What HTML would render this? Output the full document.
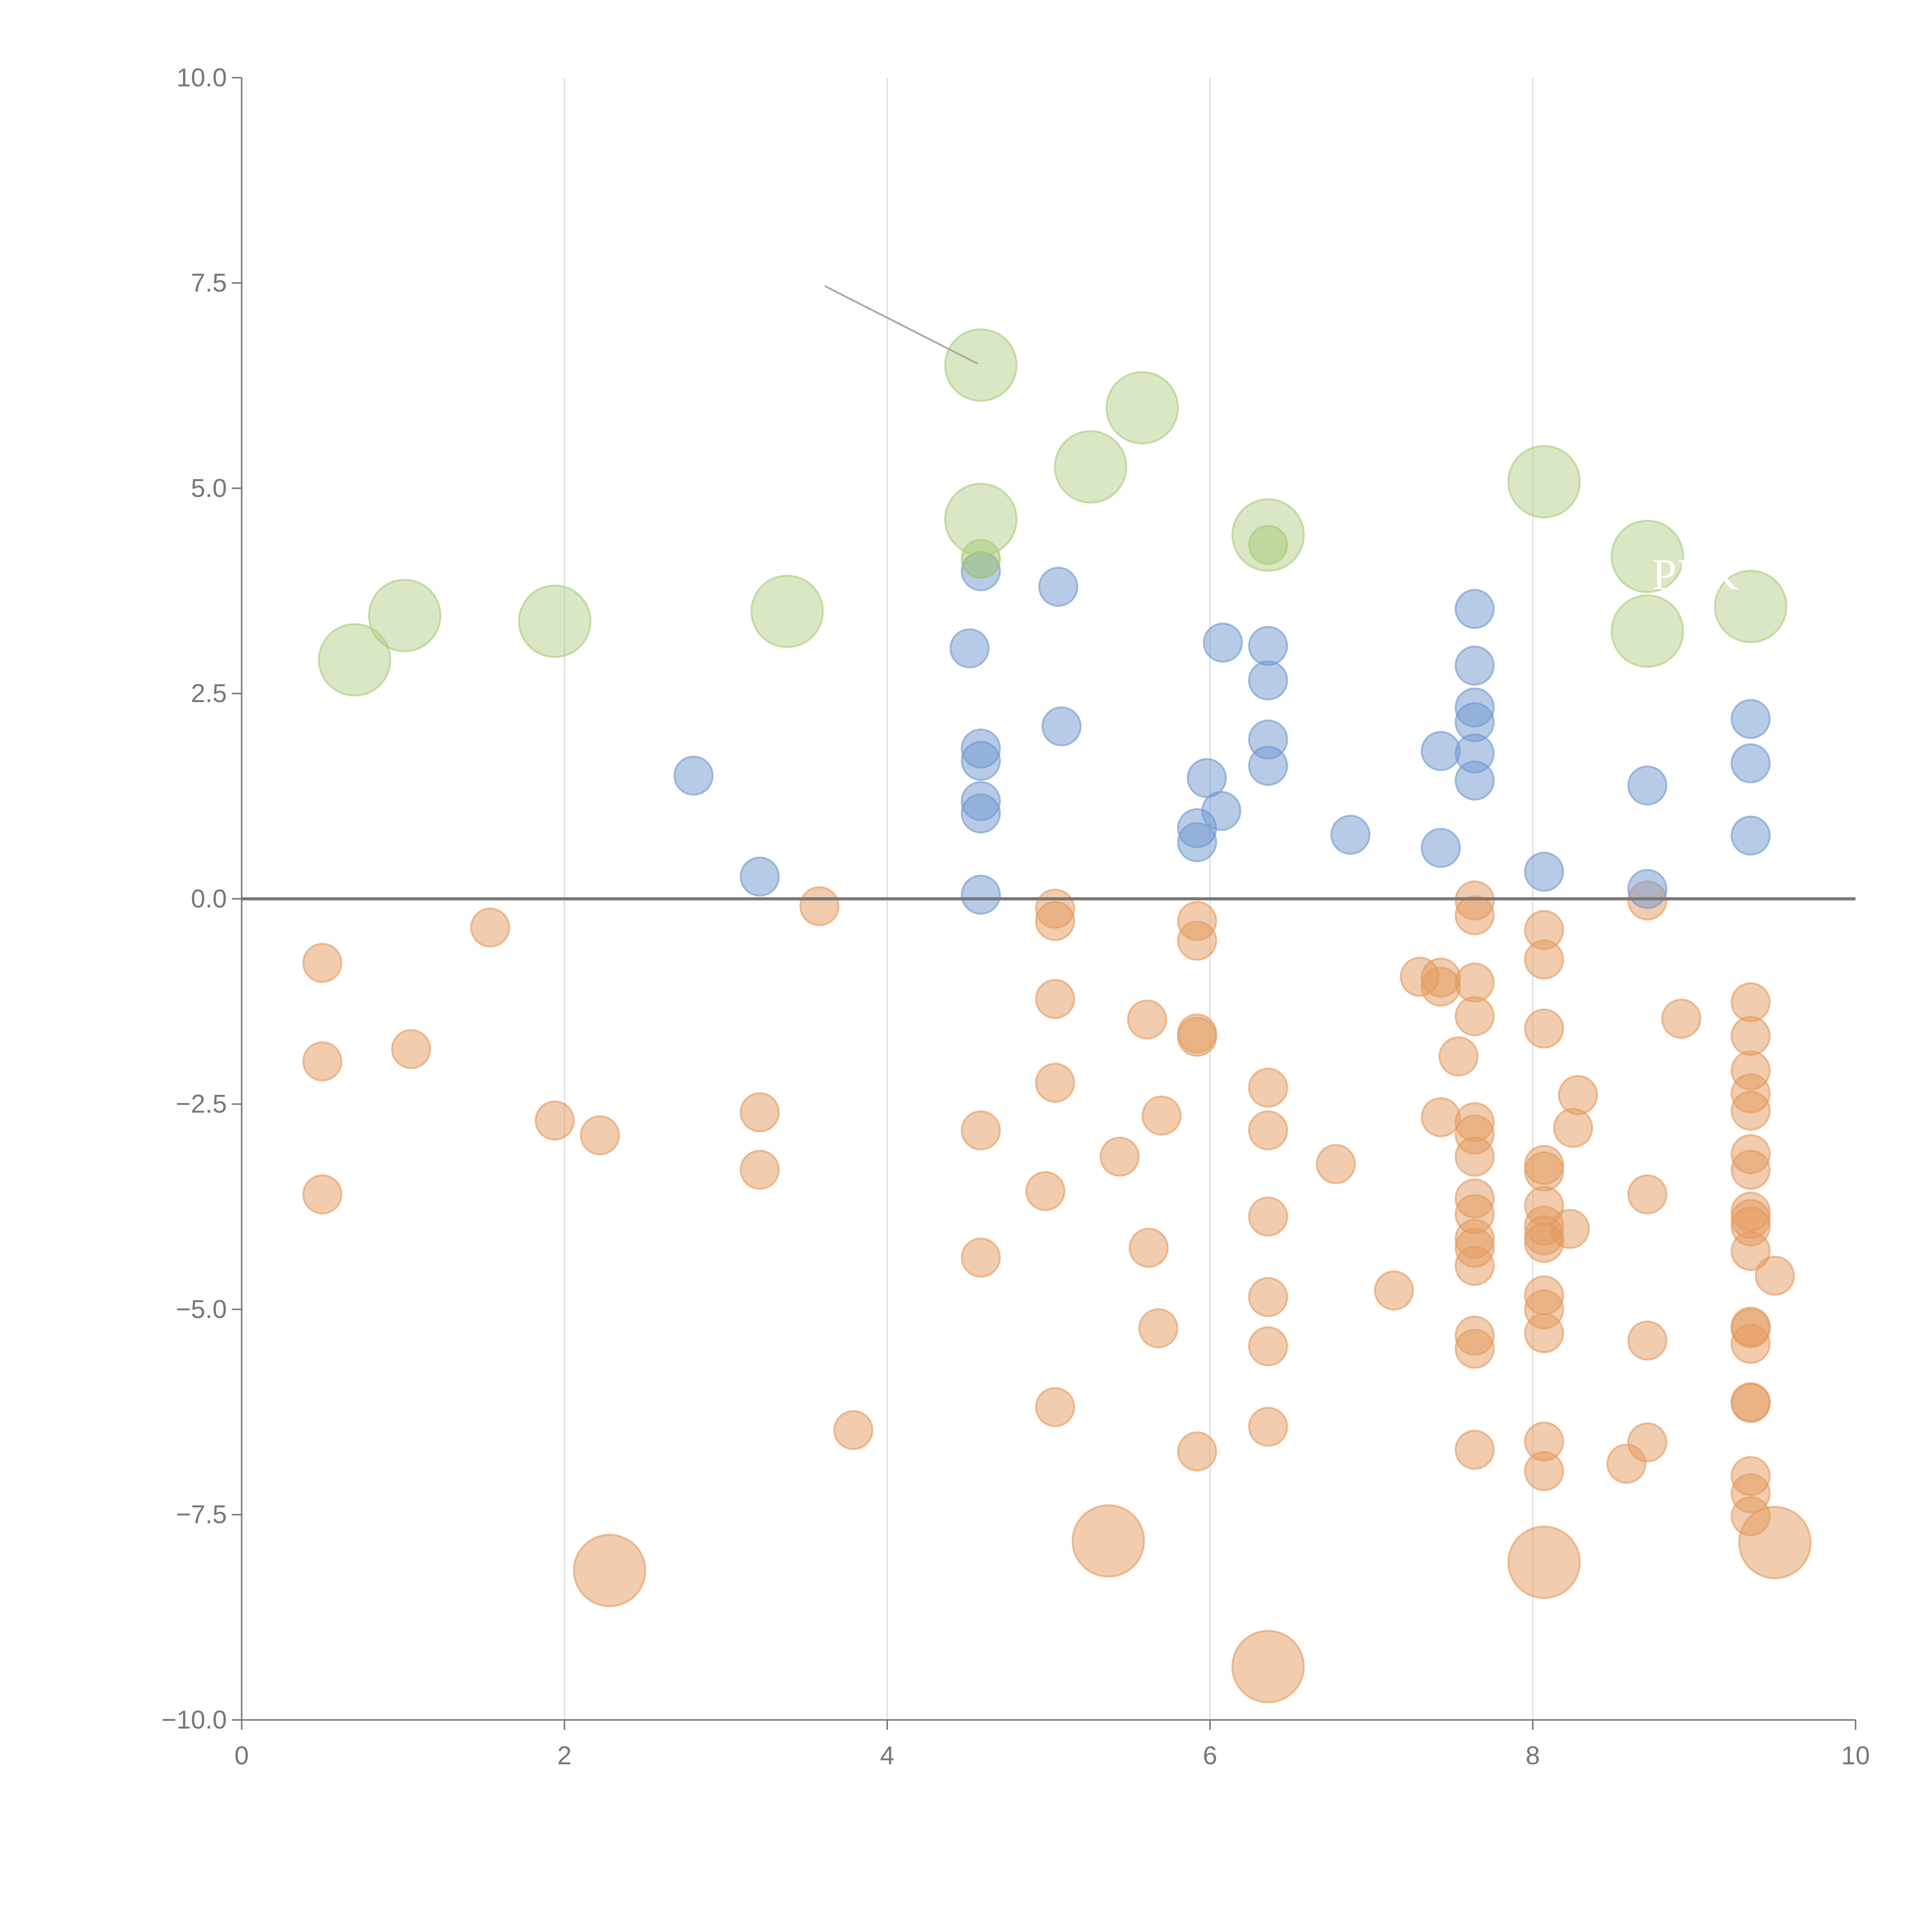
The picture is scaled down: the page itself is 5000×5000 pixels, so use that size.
<!DOCTYPE html>
<html><head><meta charset="utf-8"><style>html,body{margin:0;padding:0;background:#fff}svg{display:block}</style></head>
<body>
<svg id="chart" width="5000" height="5000" viewBox="0 0 1567 1567" xmlns="http://www.w3.org/2000/svg" font-family="Liberation Sans, sans-serif">
<g id="grid"></g>
<g id="marks"></g>
<g id="axes"></g>
</svg>
<script>
const xTicks = [0, 2, 4, 6, 8, 10];
const yTicks = [-10, -7.5, -5, -2.5, 0, 2.5, 5, 7.5, 10];
const yTickLabels = ["\u221210.0","\u22127.5","\u22125.0","\u22122.5","0.0","2.5","5.0","7.5","10.0"];
const greenBigX = [0.70,1.01,1.94,3.38,4.58,5.58,5.26,4.58,6.36,8.07,8.71,8.71,9.35];
const greenBigY = [2.91,3.45,3.38,3.50,6.50,5.98,5.26,4.62,4.43,5.08,4.17,3.26,3.56];
const greenSmallX = [4.58,6.36];
const greenSmallY = [4.14,4.31];
const blueX = [2.80,3.21,4.58,4.51,4.58,4.58,4.58,4.58,4.58,5.06,5.08,6.08,5.98,6.07,5.92,5.92,6.36,6.36,6.36,6.36,6.87,7.43,7.43,7.64,7.64,7.64,7.64,7.64,7.64,8.07,8.71,8.71,9.35,9.35,9.35];
const blueY = [1.50,0.27,3.99,3.05,1.83,1.68,1.19,1.04,0.05,3.80,2.10,3.12,1.47,1.07,0.86,0.69,3.08,2.66,1.94,1.62,0.78,1.80,0.62,3.53,2.84,2.33,2.15,1.77,1.44,0.33,1.38,0.12,2.19,1.65,0.77];
const orangeX = [0.50,0.50,0.50,1.05,1.54,1.94,2.22,3.21,3.21,3.58,3.79,4.58,4.58,4.98,5.04,5.04,5.04,5.04,5.04,5.44,5.61,5.70,5.62,5.68,5.92,5.92,5.92,5.92,5.92,6.36,6.36,6.36,6.36,6.36,6.36,6.78,7.14,7.30,7.43,7.43,7.43,7.54,7.64,7.64,7.64,7.64,7.64,7.64,7.64,7.64,7.64,7.64,7.64,7.64,7.64,7.64,7.64,8.07,8.07,8.07,8.07,8.07,8.07,8.07,8.07,8.07,8.07,8.07,8.07,8.07,8.07,8.23,8.28,8.25,8.58,8.71,8.71,8.71,8.71,8.92,9.35,9.35,9.35,9.35,9.35,9.35,9.35,9.35,9.35,9.35,9.35,9.35,9.35,9.35,9.35,9.35,9.35,9.35,9.35,9.50];
const orangeY = [-0.78,-1.98,-3.60,-1.83,-0.35,-2.70,-2.88,-2.60,-3.30,-0.09,-6.47,-2.82,-4.37,-3.56,-0.12,-0.27,-1.22,-2.24,-6.19,-3.14,-1.47,-2.64,-4.25,-5.23,-0.27,-0.51,-1.64,-1.68,-6.73,-2.30,-2.82,-3.87,-4.85,-5.45,-6.43,-3.23,-4.77,-0.95,-0.96,-1.07,-2.66,-1.92,-0.02,-0.20,-1.02,-1.43,-2.72,-2.87,-3.14,-3.65,-3.84,-4.14,-4.25,-4.47,-5.32,-5.48,-6.71,-0.38,-0.74,-1.58,-3.24,-3.32,-3.74,-3.98,-4.10,-4.19,-4.83,-5.00,-5.29,-6.61,-6.97,-4.02,-2.39,-2.79,-6.88,-0.02,-3.60,-5.38,-6.62,-1.46,-1.26,-1.67,-2.09,-2.37,-2.58,-3.11,-3.30,-3.81,-3.90,-3.99,-4.29,-5.21,-5.23,-5.42,-6.13,-6.14,-7.03,-7.24,-7.52,-4.59];
const orangeBigX = [2.28,5.37,6.36,8.07,9.50];
const orangeBigY = [-8.18,-7.82,-9.35,-8.08,-7.84];

const NS = "http://www.w3.org/2000/svg";
const X0 = 196, X1 = 1505, Y0 = 1395, Y1 = 63;
const sx = v => X0 + (v - 0) / 10 * (X1 - X0);
const sy = v => Y0 - (v + 10) / 20 * (Y0 - Y1);
function mk(tag, attrs, parent) {
  const e = document.createElementNS(NS, tag);
  for (const k in attrs) e.setAttribute(k, attrs[k]);
  parent.appendChild(e);
  return e;
}
const grid = document.getElementById('grid');
const marks = document.getElementById('marks');
const axes = document.getElementById('axes');

xTicks.forEach(t => {
  if (t === 0 || t === 10) return;
  const l = mk('line', {x1: sx(t), x2: sx(t), y1: Y1, y2: Y0, stroke: '#dcdcdc', 'stroke-width': 1}, grid);
  
  
});

function drawSeries(xs, ys, r, fill, stroke, name) {
  xs.forEach((x, i) => {
    const c = mk('circle', {cx: sx(x), cy: sy(ys[i]), r: r, fill: fill, 'fill-opacity': 0.5, stroke: stroke, 'stroke-opacity': 0.6, 'stroke-width': 1.5}, marks);
    
    
  });
}
drawSeries(orangeX, orangeY, 15.5, '#e49a5e', '#e49a5e', 'orange-bubble');
drawSeries(orangeBigX, orangeBigY, 29, '#e49a5e', '#e49a5e', 'orange-large-bubble');
drawSeries(blueX, blueY, 15.5, '#7098d0', '#7098d0', 'blue-bubble');
drawSeries(greenSmallX, greenSmallY, 15.5, '#9cc262', '#9cc262', 'green-small-bubble');
drawSeries(greenBigX, greenBigY, 29, '#b3d08a', '#a8ca78', 'green-bubble');

const ann = mk('line', {x1: 669, y1: 232, x2: 793, y2: 295, stroke: '#aaa', 'stroke-width': 1.5}, marks);


const lab = mk('text', {x: 1340, y: 478, fill: '#fff', 'font-size': 36, 'font-family': 'Liberation Serif, serif'}, marks);
lab.textContent = 'PRK';



const zl = mk('line', {x1: X0, x2: X1, y1: sy(0), y2: sy(0), stroke: '#777', 'stroke-width': 2.5}, axes);


const ya = mk('line', {x1: X0, x2: X0, y1: Y1, y2: Y0, stroke: '#777', 'stroke-width': 1.2}, axes);


const xa = mk('line', {x1: X0, x2: X1, y1: Y0, y2: Y0, stroke: '#777', 'stroke-width': 1.2}, axes);



yTicks.forEach((t, i) => {
  const tk = mk('line', {x1: X0 - 8, x2: X0, y1: sy(t), y2: sy(t), stroke: '#777', 'stroke-width': 1.2}, axes);
  
  
  const tx = mk('text', {x: X0 - 12, y: sy(t) + 7, 'text-anchor': 'end', 'font-size': 21, fill: '#777'}, axes);
  tx.textContent = yTickLabels[i];
  
  
});
xTicks.forEach(t => {
  const tk = mk('line', {x1: sx(t), x2: sx(t), y1: Y0, y2: Y0 + 8, stroke: '#777', 'stroke-width': 1.2}, axes);
  
  
  const tx = mk('text', {x: sx(t), y: Y0 + 36, 'text-anchor': 'middle', 'font-size': 21, fill: '#777'}, axes);
  tx.textContent = String(t);
  
  
});
</script>
</body></html>
